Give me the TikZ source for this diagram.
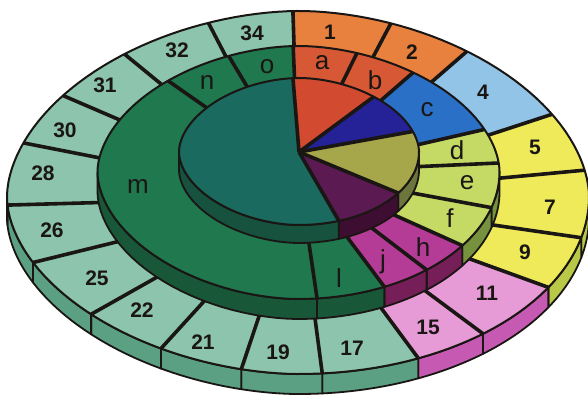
\documentclass[tikz,border=0pt]{standalone}
\usepackage{fontspec}
\setmainfont{Liberation Sans}
\definecolor{oTeal}{RGB}{140,196,174}
\definecolor{oTealS}{RGB}{92,160,132}
\definecolor{oOrange}{RGB}{232,128,62}
\definecolor{oBlue}{RGB}{145,196,230}
\definecolor{oYel}{RGB}{238,234,90}
\definecolor{oYelS}{RGB}{186,200,72}
\definecolor{oPink}{RGB}{230,155,215}
\definecolor{oPinkS}{RGB}{198,90,178}
\definecolor{mRed}{RGB}{214,88,52}
\definecolor{mBlue}{RGB}{42,112,198}
\definecolor{mYG}{RGB}{196,218,100}
\definecolor{mYGS}{RGB}{118,146,62}
\definecolor{mMag}{RGB}{180,60,150}
\definecolor{mMagS}{RGB}{118,30,88}
\definecolor{mGreen}{RGB}{32,120,78}
\definecolor{mGreenS}{RGB}{24,88,56}
\definecolor{pRed}{RGB}{210,74,48}
\definecolor{pBlue}{RGB}{36,34,150}
\definecolor{pOlive}{RGB}{166,166,74}
\definecolor{pOliveS}{RGB}{108,118,60}
\definecolor{pPurple}{RGB}{92,26,82}
\definecolor{pPurpleS}{RGB}{62,14,50}
\definecolor{pTeal}{RGB}{26,106,96}
\definecolor{pTealS}{RGB}{22,82,62}
\definecolor{ink}{RGB}{26,22,20}
\tikzset{
  bline/.style={line width=1.8pt, draw=ink},
  edgeline/.style={line width=1pt, draw=ink},
  sideline/.style={draw=ink, line width=0.9pt, line join=round},
  numlbl/.style={font=\bfseries\fontsize{10.5}{11}\selectfont, text=ink, inner sep=0pt},
  letlbl/.style={font=\fontsize{13}{14}\selectfont, text=ink, inner sep=0pt}
}
\newcommand\tier[8]{\def\CX{#1}\def\CY{#2}\def\RXL{#3}\def\RXR{#4}\def\RYT{#5}\def\RYB{#6}\def\EE{#7}\def\EBR{#8}}
\newcommand\topsec[3]{\fill[#3] (\CX,\CY) -- plot[domain=#1:#2,samples=40] ({ptx(\x)},{pty(\x)}) -- cycle;}
\newcommand\sidesec[3]{\filldraw[fill=#3,sideline] plot[domain=#1:#2,samples=30] ({ptx(\x)},{pty(\x)}) -- plot[domain=#2:#1,samples=30] ({ptx(\x)},{pty(\x)+\TH}) -- cycle;}
\newcommand\radline[1]{\draw[bline] (\CX,\CY) -- ({ptx(#1)},{pty(#1)});}
\newcommand\topedge{\draw[edgeline] plot[domain=0:360,samples=160] ({ptx(\x)},{pty(\x)}) -- cycle;}
\begin{document}
\begin{tikzpicture}[x=0.5pt,y=-0.5pt,
  declare function={
    qexp(\t)=ifthenelse(cos(\t)>0,ifthenelse(sin(\t)>0,\EBR,\EE),\EE);
    pcx(\t)=cos(\t)*pow(abs(cos(\t))+0.00001,qexp(\t)-1);
    psy(\t)=sin(\t)*pow(abs(sin(\t))+0.00001,qexp(\t)-1);
    ptx(\t)=\CX+pcx(\t)*ifthenelse(cos(\t)>0,\RXR,\RXL);
    pty(\t)=\CY+psy(\t)*ifthenelse(sin(\t)>0,\RYB,\RYT);
  }]
\useasboundingbox (0,0) rectangle (588,401);
\fill[white] (0,0) rectangle (588,401);

% ---------------- outer ring ----------------
\tier{299}{197}{292}{290}{186}{177}{1.0811}{1}\def\TH{20}
\sidesec{0}{13.3}{oYelS}
\sidesec{13.3}{30.7}{oYelS}
\sidesec{30.7}{50.6}{oPinkS}
\sidesec{50.6}{65.7}{oPinkS}
\sidesec{65.7}{85.4}{oTealS}
\sidesec{85.4}{102.9}{oTealS}
\sidesec{102.9}{120}{oTealS}
\sidesec{120}{136.9}{oTealS}
\sidesec{136.9}{156.5}{oTealS}
\sidesec{156.5}{176.7}{oTealS}
\sidesec{176.7}{180}{oTealS}
\topsec{268.4}{290.2}{oOrange}
\topsec{290.2}{307.1}{oOrange}
\topsec{307.1}{331.8}{oBlue}
\topsec{331.8}{350.4}{oYel}
\topsec{350.4}{373.3}{oYel}
\topsec{13.3}{30.7}{oYel}
\topsec{30.7}{50.6}{oPink}
\topsec{50.6}{65.7}{oPink}
\topsec{65.7}{268.4}{oTeal}
\foreach \b in {268.4,290.2,307.1,331.8,350.4,13.3,30.7,50.6,65.7,85.4,102.9,120,136.9,156.5,176.7,198.6,214.8,231.6,250.2}{\radline{\b}}
\topedge

% ---------------- middle ring ----------------
\tier{298.5}{172}{201}{201}{126}{127}{1.0811}{1}\def\TH{20}
\sidesec{0}{16.3}{mYGS}
\sidesec{16.3}{35.4}{mYGS}
\sidesec{35.4}{50.4}{mMagS}
\sidesec{50.4}{64.7}{mMagS}
\sidesec{64.7}{84.7}{mGreenS}
\sidesec{84.7}{180}{mGreenS}
\topsec{268}{306.5}{mRed}
\topsec{306.5}{338.5}{mBlue}
\topsec{338.5}{395.4}{mYG}
\topsec{35.4}{64.7}{mMag}
\topsec{64.7}{268}{mGreen}
\foreach \b in {268,288.6,306.5,338.5,355,16.3,35.4,50.4,64.7,84.7,227.9,247.9}{\radline{\b}}
\topedge

% ---------------- inner pie ----------------
\tier{299}{152}{120}{120}{74}{73}{1.0811}{1}\def\TH{18}
\sidesec{0}{34.2}{pOliveS}
\sidesec{34.2}{70.6}{pPurpleS}
\sidesec{70.6}{180}{pTealS}
\topsec{266.4}{310.2}{pRed}
\topsec{310.2}{342.2}{pBlue}
\topsec{342.2}{394.2}{pOlive}
\topsec{34.2}{70.6}{pPurple}
\topsec{70.6}{266.4}{pTeal}
\foreach \b in {266.4,310.2,342.2,34.2,70.6}{\radline{\b}}
\topedge

% ---------------- labels ----------------
\node[numlbl] (n34) at (252,33) {34};
\node[numlbl] (n1) at (330,32) {1};
\node[numlbl] (n2) at (412,52) {2};
\node[numlbl] (n4) at (483,92) {4};
\node[numlbl] (n5) at (535,147) {5};
\node[numlbl] (n7) at (550,207) {7};
\node[numlbl] (n9) at (525,252) {9};
\node[numlbl] (n11) at (487,293) {11};
\node[numlbl] (n15) at (428,327) {15};
\node[numlbl] (n17) at (352,348) {17};
\node[numlbl] (n19) at (278,352) {19};
\node[numlbl] (n21) at (203,342) {21};
\node[numlbl] (n22) at (142,310) {22};
\node[numlbl] (n25) at (97,278) {25};
\node[numlbl] (n26) at (52,230) {26};
\node[numlbl] (n28) at (43,173) {28};
\node[numlbl] (n30) at (65,130) {30};
\node[numlbl] (n31) at (105,85) {31};
\node[numlbl] (n32) at (177,50) {32};
\node[letlbl] (la) at (322,63) {a};
\node[letlbl] (lb) at (375,80) {b};
\node[letlbl] (lc) at (427,110) {c};
\node[letlbl] (ld) at (457,150) {d};
\node[letlbl] (le) at (467,183) {e};
\node[letlbl] (lf) at (450,218) {f};
\node[letlbl] (lh) at (423,247) {h};
\node[letlbl] (lj) at (383,262) {j};
\node[letlbl] (ll) at (339,278) {l};
\node[letlbl] (lm) at (138,187) {m};
\node[letlbl] (ln) at (207,83) {n};
\node[letlbl] (lo) at (267,67) {o};
\end{tikzpicture}
\end{document}
